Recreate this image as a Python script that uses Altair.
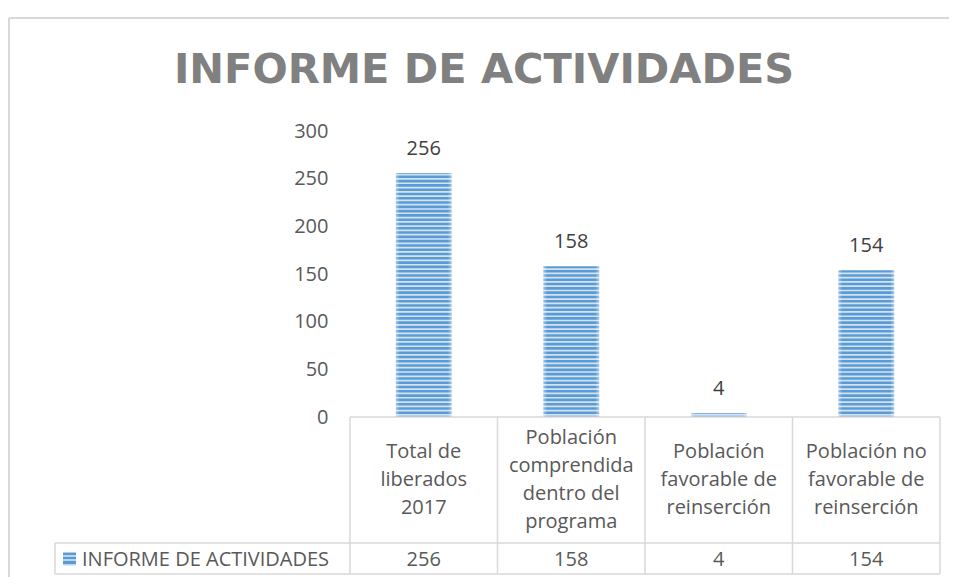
import altair as alt
import pandas as pd

# ---------------- data ----------------
categories = [
    "Total de liberados 2017",
    "Población comprendida dentro del programa",
    "Población favorable de reinserción",
    "Población no favorable de reinserción",
]
category_lines = [
    ["Total de", "liberados", "2017"],
    ["Población", "comprendida", "dentro del", "programa"],
    ["Población", "favorable de", "reinserción"],
    ["Población no", "favorable de", "reinserción"],
]
values = [256, 158, 4, 154]
series_name = "INFORME DE ACTIVIDADES"
title_text = "INFORME DE ACTIVIDADES"
y_ticks = [0, 50, 100, 150, 200, 250, 300]

# ---------------- layout (pixels, relative to plot area) ----------------
W, H = 590, 286
HEADER_BOTTOM = 412
TABLE_BOTTOM = 443
LEGEND_LEFT = -295
LINE_H = 28
FONT = "Open Sans"
TXT = "#595959"
GRID = "#d9d9d9"

df = pd.DataFrame({
    "cat": categories,
    "val": values,
    "lines": ["\n".join(l) for l in category_lines],
})

one = alt.Data(values=[{}])

x_enc = alt.X("cat:N", sort=categories,
              scale=alt.Scale(domain=categories, paddingInner=0, paddingOuter=0),
              axis=None)
y_axis = alt.Axis(values=y_ticks, grid=False, domain=False, ticks=False,
                  labelFont=FONT, labelFontSize=20, labelColor=TXT,
                  labelPadding=22, title=None)
y_scale = alt.Scale(domain=[0, 300], nice=False, zero=True)
y_enc = alt.Y("val:Q", scale=y_scale, axis=y_axis)

bar_fill = alt.Gradient(
    gradient="linear", x1=0, y1=0, x2=1, y2=0,
    stops=[alt.GradientStop(offset=0, color="#a3c8ea"),
           alt.GradientStop(offset=0.07, color="#5b9bd5"),
           alt.GradientStop(offset=0.93, color="#5b9bd5"),
           alt.GradientStop(offset=1, color="#a3c8ea")])

bars = alt.Chart(df).mark_bar(size=56, fill=bar_fill).encode(x=x_enc, y=y_enc)

stripes = alt.Chart(alt.sequence(start=2.2, stop=300, step=4.5, as_="v")).mark_rule(
    color="white", opacity=0.72, strokeWidth=1.7
).encode(y=alt.Y("v:Q", scale=y_scale, axis=y_axis), x=alt.value(0), x2=alt.value(W))

labels = alt.Chart(df).mark_text(font=FONT, fontSize=20, color="#404040",
                                 baseline="middle", dy=-24).encode(
    x=x_enc, y=y_enc, text="val:Q")

# table
lines_h = alt.Chart(pd.DataFrame({
    "y": [H, HEADER_BOTTOM, TABLE_BOTTOM],
    "x0": [0, LEGEND_LEFT, LEGEND_LEFT],
})).mark_rule(color=GRID, strokeWidth=1.5).encode(
    y=alt.Y("y:Q", scale=None), x=alt.X("x0:Q", scale=None), x2=alt.value(W))

lines_v = alt.Chart(df).mark_rule(color=GRID, strokeWidth=1.5).encode(
    x=alt.X("cat:N", sort=categories, bandPosition=0,
            scale=alt.Scale(domain=categories, paddingInner=0, paddingOuter=0), axis=None),
    y=alt.value(H), y2=alt.value(TABLE_BOTTOM))
line_right = alt.Chart(one).mark_rule(color=GRID, strokeWidth=1.5).encode(
    x=alt.value(W), y=alt.value(H), y2=alt.value(TABLE_BOTTOM))
line_legend = alt.Chart(one).mark_rule(color=GRID, strokeWidth=1.5).encode(
    x=alt.value(LEGEND_LEFT), y=alt.value(HEADER_BOTTOM), y2=alt.value(TABLE_BOTTOM))

header_center = (H + HEADER_BOTTOM) / 2
header_text = alt.Chart(df).transform_calculate(
    n="length(split(datum.lines, '\\n'))"
).transform_calculate(
    ty=f"{header_center} - (datum.n - 1) * {LINE_H / 2}"
).mark_text(font=FONT, fontSize=20, color=TXT, baseline="middle",
            lineBreak="\n", lineHeight=LINE_H).encode(
    x=x_enc, y=alt.Y("ty:Q", scale=None), text="lines:N")
value_text = alt.Chart(df).mark_text(font=FONT, fontSize=20, color=TXT,
                                     baseline="middle").encode(
    x=x_enc, y=alt.value((HEADER_BOTTOM + TABLE_BOTTOM) / 2 + 1), text="val:Q")

sq_fill = alt.Gradient(
    gradient="linear", x1=0, y1=0, x2=0, y2=1,
    stops=[alt.GradientStop(offset=o, color=c) for o, c in [
        (0, "#5b9bd5"), (0.2, "#5b9bd5"), (0.2, "#bcd6ef"), (0.33, "#bcd6ef"),
        (0.33, "#5b9bd5"), (0.53, "#5b9bd5"), (0.53, "#bcd6ef"), (0.66, "#bcd6ef"),
        (0.66, "#5b9bd5"), (0.86, "#5b9bd5"), (0.86, "#bcd6ef"), (1, "#bcd6ef")]])
legend_sq = alt.Chart(one).mark_rect(fill=sq_fill).encode(
    x=alt.value(LEGEND_LEFT + 8), x2=alt.value(LEGEND_LEFT + 21),
    y=alt.value((HEADER_BOTTOM + TABLE_BOTTOM) / 2 - 6),
    y2=alt.value((HEADER_BOTTOM + TABLE_BOTTOM) / 2 + 7))
legend_txt = alt.Chart(pd.DataFrame({"t": [series_name]})).mark_text(
    font=FONT, fontSize=20, color=TXT, align="left", baseline="middle").encode(
    x=alt.value(LEGEND_LEFT + 27), y=alt.value((HEADER_BOTTOM + TABLE_BOTTOM) / 2 + 1),
    text="t:N")

# title and chart border
title = alt.Chart(pd.DataFrame({"t": [title_text]})).mark_text(
    font="DejaVu Sans", fontSize=41.5, fontWeight="bold", color="#808080",
    align="center", baseline="alphabetic").encode(
    x=alt.value(134), y=alt.value(-48), text="t:N")
border_top = alt.Chart(one).mark_rule(color=GRID, strokeWidth=2).encode(
    x=alt.value(-341), x2=alt.value(W + 20), y=alt.value(-113))
border_left = alt.Chart(one).mark_rule(color=GRID, strokeWidth=2).encode(
    x=alt.value(-341), y=alt.value(-113), y2=alt.value(TABLE_BOTTOM + 30))

chart = alt.layer(
    border_top, border_left, title,
    bars, stripes, labels,
    lines_h, lines_v, line_right, line_legend,
    header_text, value_text, legend_sq, legend_txt,
).properties(
    width=W, height=H,
    autosize=alt.AutoSizeParams(type="none"),
    padding={"left": 342, "top": 123, "right": 9, "bottom": 160},
).configure(background="white", view=alt.ViewConfig(stroke=None))

chart.save("out.html", embed_options={"renderer": "svg", "actions": False})
